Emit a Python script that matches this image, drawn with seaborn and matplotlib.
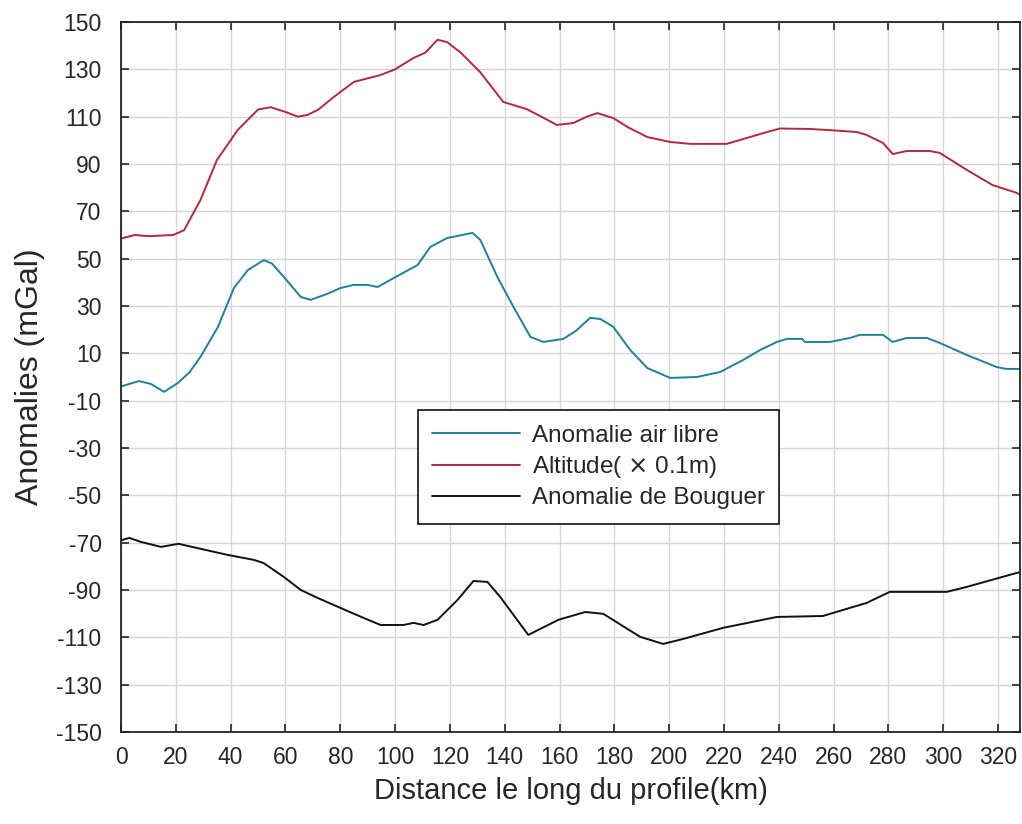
import matplotlib
matplotlib.use("Agg")
import matplotlib.pyplot as plt
import seaborn as sns
import pandas as pd

# Altitude (x 0.1 m)
alt_km = [0, 5, 10, 19, 23, 29, 35, 42.6, 50, 54.6, 60, 64.5, 68, 72, 77.6, 85, 94.7,
          100, 106.7, 111, 115.5, 119, 124, 131, 139.5, 148, 155, 159, 165, 170, 173.8,
          179.6, 185, 192, 200.4, 207.7, 221, 229.5, 235.7, 240.4, 251.4, 260, 268.5,
          272, 278, 281.6, 286.7, 295, 298.7, 308.6, 318, 326.8, 328]
alt_val = [58.5, 60, 59.5, 60, 62, 74.8, 91.7, 104.4, 113, 114, 112, 110, 110.7, 113,
           118.3, 124.7, 127.6, 130, 134.8, 137, 142.5, 141.5, 137, 128.9, 116.2, 113.2,
           109, 106.5, 107.3, 110, 111.5, 109.4, 105.5, 101.4, 99.3, 98.5, 98.5, 101.4,
           103.5, 105, 104.8, 104.2, 103.5, 102.3, 98.9, 94.2, 95.5, 95.5, 94.7, 87.5,
           81.1, 77.8, 77]

# Anomalie air libre
fa_km = [0, 6.6, 11, 15.7, 20.8, 25, 29, 35.3, 41.2, 46.3, 52.1, 55, 59.4, 65.6, 69.2,
         75, 80.1, 84.9, 90, 93.6, 99.5, 108.2, 112.9, 119, 128.2, 131.1, 137.3, 143.2,
         149.4, 154.1, 161.4, 166, 171.2, 174.9, 179.6, 185.8, 192, 200.4, 210.2, 218.6,
         227, 233.2, 239.3, 243, 248.5, 249.5, 258.7, 266, 269.6, 278, 281.6, 286.7, 294,
         298.7, 308.6, 319.5, 323.1, 328]
fa_val = [-4, -1.7, -3, -6.3, -2.5, 2, 8.5, 21, 37.6, 45.2, 49.4, 48, 42.3, 33.8, 32.6,
          35, 37.6, 38.9, 38.9, 38, 41.8, 47.3, 55, 58.7, 60.9, 57.9, 42.3, 29.6, 16.9,
          14.8, 16.1, 19.5, 25, 24.5, 21.2, 11.4, 3.8, -0.4, 0, 2.1, 7.2, 11.4, 14.8, 16.1,
          16.1, 14.8, 14.8, 16.5, 17.8, 17.8, 14.8, 16.5, 16.5, 14.4, 9.3, 4.2, 3.4, 3.4]

# Anomalie de Bouguer
bg_km = [0, 3, 7.3, 14.6, 21, 29, 39, 48.5, 52, 59.4, 65.6, 71.8, 80.1, 88.5, 94.7,
         103.1, 106.7, 110.4, 115.5, 122.8, 128.6, 133.7, 138.4, 148.6, 159.6, 169.4,
         176, 189.4, 197.8, 205.1, 219.7, 239.3, 256.1, 265.9, 272, 280.5, 301.3, 308.6,
         326.8, 328]
bg_val = [-69, -68, -69.7, -71.8, -70.5, -72.6, -75.2, -77.3, -78.6, -84.5, -90, -93.4,
          -97.6, -101.8, -104.8, -104.8, -103.9, -104.8, -102.6, -94.2, -86.2, -86.6,
          -93, -109, -102.6, -99.3, -100.1, -109.8, -112.8, -110.7, -106, -101.4, -101,
          -97.6, -95.5, -90.8, -90.8, -88.7, -82.8, -82.5]

labels = ["Anomalie air libre", r"Altitude( $\times$ 0.1m)", "Anomalie de Bouguer"]
colors = ["#1f7f9f", "#b02a3a", "#111111"]

df = pd.concat([
    pd.DataFrame({"km": fa_km, "val": fa_val, "serie": labels[0]}),
    pd.DataFrame({"km": alt_km, "val": alt_val, "serie": labels[1]}),
    pd.DataFrame({"km": bg_km, "val": bg_val, "serie": labels[2]}),
])

sns.set_style("ticks")
plt.rcParams["font.family"] = ["Liberation Sans", "DejaVu Sans"]
plt.rcParams["mathtext.fontset"] = "dejavusans"
plt.rcParams["axes.unicode_minus"] = False

fig = plt.figure(figsize=(10.22, 8.24), dpi=100)
ax = fig.add_axes([0.1184, 0.1117, 0.8796, 0.8616])

sns.lineplot(data=df, x="km", y="val", hue="serie", hue_order=labels,
             palette=colors, sort=False, linewidth=1.4, ax=ax)

ax.set_xlim(0, 328)
ax.set_ylim(-150, 150)
ax.set_xticks(range(0, 321, 20))
ax.set_yticks(range(-150, 151, 20))
ax.grid(True, color="#d6d6d6", linewidth=1.0)
ax.tick_params(direction="in", top=True, right=True, length=6, width=1.2,
               labelsize=16.5, colors="#262626")
ax.tick_params(axis="x", pad=10)
ax.tick_params(axis="y", pad=14)
for s in ax.spines.values():
    s.set_linewidth(1.3)
    s.set_color("#222222")

ax.set_xlabel("Distance le long du profile(km)", fontsize=21, color="#262626",
              labelpad=6)
ax.set_ylabel("Anomalies (mGal)", fontsize=23, color="#262626", labelpad=8)

leg = ax.legend(loc="lower left", bbox_to_anchor=(0.330, 0.293), fontsize=17.5,
                frameon=True, fancybox=False, edgecolor="#222222", framealpha=1,
                handlelength=3.6, handletextpad=0.5, borderpad=0.6,
                labelspacing=0.3, borderaxespad=0)
leg.get_frame().set_linewidth(1.3)

fig.savefig("out.png", dpi=100)
